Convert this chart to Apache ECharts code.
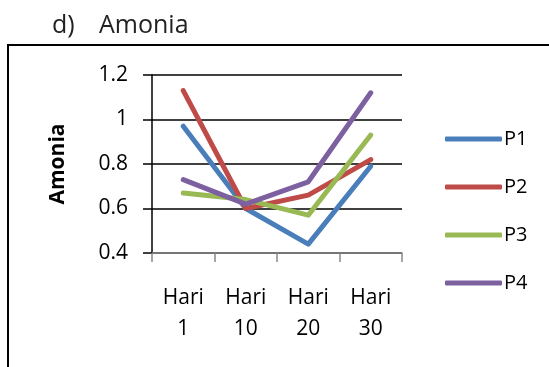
<!DOCTYPE html>
<html>
<head>
<meta charset="utf-8">
<script src="https://cdn.jsdelivr.net/npm/echarts@6/dist/echarts.min.js"></script>
<style>
  html, body { margin: 0; padding: 0; background: #fff; }
  #chart { width: 549px; height: 367px; }
</style>
</head>
<body>
<div id="chart"></div>
<script>
// Ammonia levels per treatment over the sampling days
const categories = ['Hari\n1', 'Hari\n10', 'Hari\n20', 'Hari\n30'];
const p1 = [0.97, 0.60, 0.44, 0.79];
const p2 = [1.13, 0.60, 0.66, 0.82];
const p3 = [0.67, 0.64, 0.57, 0.93];
const p4 = [0.73, 0.62, 0.72, 1.12];
const seriesNames = ['P1', 'P2', 'P3', 'P4'];
const seriesColors = ['#4a7ebb', '#be4b48', '#98b954', '#7d60a0'];

const FONT = '"Open Sans", "Liberation Sans", sans-serif';

const chart = echarts.init(document.getElementById('chart'), null, { renderer: 'canvas' });

const lineSeries = [p1, p2, p3, p4].map((data, i) => ({
  name: seriesNames[i],
  type: 'line',
  data: data,
  symbol: 'none',
  color: seriesColors[i],
  lineStyle: { width: 5, color: seriesColors[i], cap: 'round', join: 'round' },
  z: 3 + i
}));

chart.setOption({
  animation: false,
  backgroundColor: '#fff',
  graphic: [
    {
      type: 'rect',
      shape: { x: 8, y: 45, width: 600, height: 400 },
      style: { fill: 'none', stroke: '#000', lineWidth: 2 },
      silent: true,
      z: -1
    },
    {
      type: 'text', left: 52, top: 13,
      style: { text: 'd)', font: '25px ' + FONT, fill: '#222' }
    },
    {
      type: 'text', left: 99, top: 13,
      style: { text: 'Amonia', font: '25px ' + FONT, fill: '#222' }
    }
  ],
  grid: { left: 152, right: 147, top: 75, bottom: 114 },
  legend: {
    orient: 'vertical',
    left: 440,
    top: 124,
    icon: 'roundRect',
    itemWidth: 57,
    itemHeight: 5,
    itemGap: 28,
    textStyle: { fontFamily: FONT, fontSize: 20, color: '#000', padding: [0, 0, 0, -3] },
    data: seriesNames
  },
  xAxis: {
    type: 'category',
    data: categories,
    boundaryGap: true,
    axisLine: { lineStyle: { color: '#888', width: 1.5 } },
    axisTick: { show: true, interval: 0, length: 9, lineStyle: { color: '#888', width: 1.5 } },
    axisLabel: {
      interval: 0, margin: 30, color: '#000',
      fontFamily: FONT, fontSize: 21, lineHeight: 31
    },
    splitLine: { show: false }
  },
  yAxis: {
    type: 'value',
    min: 0.4, max: 1.2, interval: 0.2,
    name: 'Amonia',
    nameLocation: 'middle',
    nameGap: 83,
    nameTextStyle: { fontFamily: FONT, fontSize: 21, fontWeight: 'bold', color: '#000' },
    axisLine: { show: true, lineStyle: { color: '#000', width: 1.5 } },
    axisTick: { show: true, length: 9, lineStyle: { color: '#000', width: 1.5 } },
    axisLabel: { margin: 24, color: '#000', fontFamily: FONT, fontSize: 21 },
    splitLine: { show: true, lineStyle: { color: '#000', width: 1.5 } }
  },
  series: lineSeries
});
</script>
</body>
</html>
